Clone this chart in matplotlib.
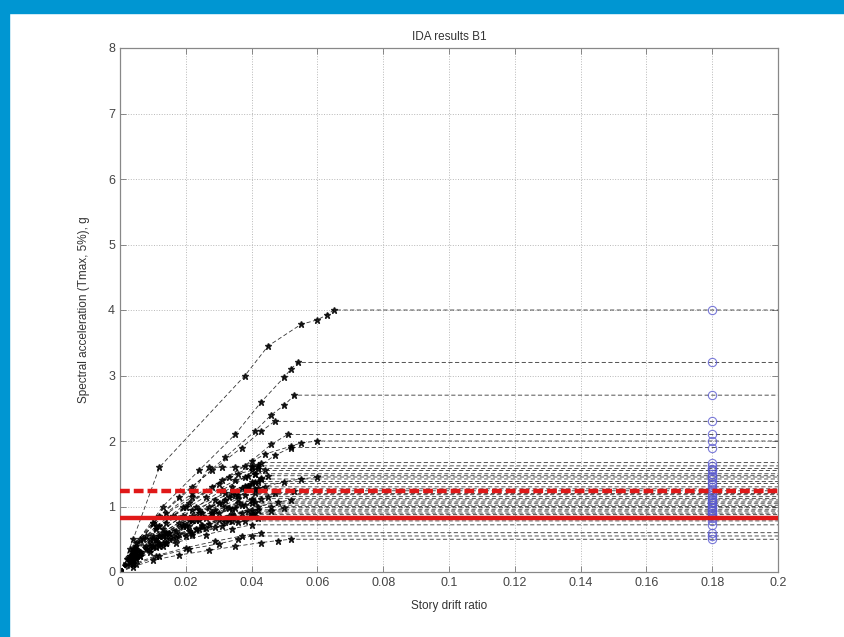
import matplotlib
matplotlib.use("Agg")
import matplotlib.pyplot as plt
from matplotlib.patches import Rectangle

plt.rcParams["font.family"] = ["Liberation Sans", "DejaVu Sans"]

# IDA curves: story drift ratio vs Sa(Tmax, 5%) [g], one pair of lists per record
drifts = [
    [0, 0.004, 0.012, 0.038, 0.045, 0.055, 0.060, 0.063, 0.065],
    [0, 0.005, 0.013, 0.024, 0.035, 0.043, 0.050, 0.052, 0.054],
    [0, 0.005, 0.012, 0.022, 0.032, 0.041, 0.046, 0.050, 0.053],
    [0, 0.004, 0.010, 0.018, 0.028, 0.037, 0.043, 0.047],
    [0, 0.005, 0.012, 0.021, 0.031, 0.040, 0.046, 0.051],
    [0, 0.004, 0.011, 0.020, 0.030, 0.038, 0.044, 0.052, 0.055, 0.060],
    [0, 0.005, 0.013, 0.024, 0.034, 0.042, 0.047, 0.052],
    [0, 0.003, 0.010, 0.022, 0.033, 0.040, 0.042, 0.043],
    [0, 0.006, 0.014, 0.022, 0.027, 0.031, 0.035, 0.040],
    [0, 0.004, 0.011, 0.019, 0.028, 0.036, 0.040, 0.042],
    [0, 0.005, 0.013, 0.022, 0.031, 0.038, 0.041, 0.044],
    [0, 0.003, 0.008, 0.016, 0.026, 0.035, 0.039, 0.041],
    [0, 0.006, 0.015, 0.025, 0.034, 0.040, 0.043, 0.045],
    [0, 0.004, 0.012, 0.022, 0.032, 0.042, 0.050, 0.055, 0.060],
    [0, 0.005, 0.014, 0.024, 0.033, 0.039, 0.041, 0.043],
    [0, 0.002, 0.007, 0.014, 0.023, 0.032, 0.038, 0.042],
    [0, 0.004, 0.010, 0.019, 0.029, 0.037, 0.039, 0.040],
    [0, 0.005, 0.012, 0.021, 0.030, 0.036, 0.041, 0.044],
    [0, 0.003, 0.009, 0.018, 0.027, 0.035, 0.039],
    [0, 0.006, 0.014, 0.023, 0.032, 0.040, 0.047, 0.053],
    [0, 0.004, 0.011, 0.020, 0.029, 0.036, 0.041],
    [0, 0.005, 0.013, 0.022, 0.031, 0.038],
    [0, 0.003, 0.008, 0.015, 0.024, 0.033, 0.040, 0.045],
    [0, 0.004, 0.010, 0.019, 0.028, 0.036, 0.043],
    [0, 0.006, 0.015, 0.025, 0.034, 0.042, 0.048, 0.052],
    [0, 0.004, 0.012, 0.021, 0.030, 0.037, 0.041],
    [0, 0.005, 0.011, 0.019, 0.028, 0.035, 0.040],
    [0, 0.003, 0.009, 0.017, 0.026, 0.034, 0.038],
    [0, 0.006, 0.014, 0.023, 0.032, 0.040, 0.046],
    [0, 0.004, 0.012, 0.022, 0.032, 0.040, 0.046, 0.050],
    [0, 0.005, 0.013, 0.021, 0.030, 0.037, 0.042],
    [0, 0.003, 0.008, 0.016, 0.025, 0.033, 0.039],
    [0, 0.004, 0.010, 0.018, 0.027, 0.035, 0.041],
    [0, 0.006, 0.014, 0.024, 0.033, 0.040],
    [0, 0.003, 0.009, 0.017, 0.026, 0.034, 0.040],
    [0, 0.004, 0.011, 0.020, 0.029, 0.036, 0.042],
    [0, 0.005, 0.013, 0.022, 0.031, 0.038],
    [0, 0.003, 0.009, 0.017, 0.026, 0.034, 0.040],
    [0, 0.004, 0.011, 0.020, 0.029, 0.037, 0.043],
    [0, 0.005, 0.012, 0.021, 0.030, 0.036, 0.040],
    [0, 0.004, 0.010, 0.018, 0.027, 0.035, 0.043, 0.048, 0.052],
]
sa = [
    [0, 0.50, 1.60, 3.00, 3.45, 3.78, 3.85, 3.93, 4.00],
    [0, 0.45, 1.00, 1.55, 2.10, 2.60, 2.98, 3.10, 3.20],
    [0, 0.40, 0.85, 1.30, 1.75, 2.15, 2.40, 2.55, 2.70],
    [0, 0.35, 0.75, 1.15, 1.55, 1.90, 2.15, 2.30],
    [0, 0.35, 0.70, 1.05, 1.40, 1.70, 1.95, 2.10],
    [0, 0.30, 0.65, 1.00, 1.35, 1.62, 1.80, 1.92, 1.97, 2.00],
    [0, 0.30, 0.60, 0.95, 1.30, 1.60, 1.78, 1.90],
    [0, 0.35, 0.75, 1.15, 1.45, 1.60, 1.64, 1.67],
    [0, 0.50, 0.90, 1.20, 1.60, 1.60, 1.60, 1.62],
    [0, 0.35, 0.70, 1.00, 1.30, 1.50, 1.55, 1.58],
    [0, 0.30, 0.65, 0.95, 1.25, 1.45, 1.50, 1.55],
    [0, 0.25, 0.55, 0.85, 1.15, 1.40, 1.46, 1.50],
    [0, 0.30, 0.60, 0.90, 1.20, 1.38, 1.43, 1.47],
    [0, 0.25, 0.55, 0.85, 1.10, 1.28, 1.38, 1.42, 1.45],
    [0, 0.30, 0.60, 0.90, 1.15, 1.32, 1.38, 1.42],
    [0, 0.20, 0.50, 0.75, 1.00, 1.20, 1.32, 1.38],
    [0, 0.30, 0.55, 0.85, 1.10, 1.28, 1.32, 1.35],
    [0, 0.25, 0.55, 0.80, 1.05, 1.18, 1.26, 1.30],
    [0, 0.25, 0.50, 0.75, 1.00, 1.18, 1.27],
    [0, 0.30, 0.55, 0.80, 1.00, 1.12, 1.20, 1.24],
    [0, 0.20, 0.45, 0.70, 0.95, 1.12, 1.20],
    [0, 0.25, 0.55, 0.80, 1.05, 1.18],
    [0, 0.20, 0.40, 0.60, 0.80, 0.98, 1.10, 1.15],
    [0, 0.25, 0.50, 0.72, 0.92, 1.05, 1.12],
    [0, 0.30, 0.50, 0.70, 0.88, 1.00, 1.07, 1.10],
    [0, 0.20, 0.45, 0.70, 0.90, 1.02, 1.07],
    [0, 0.25, 0.50, 0.70, 0.88, 0.98, 1.05],
    [0, 0.15, 0.40, 0.62, 0.82, 0.96, 1.02],
    [0, 0.25, 0.45, 0.65, 0.82, 0.94, 1.00],
    [0, 0.20, 0.40, 0.60, 0.76, 0.86, 0.93, 0.98],
    [0, 0.22, 0.45, 0.62, 0.80, 0.90, 0.95],
    [0, 0.15, 0.35, 0.55, 0.72, 0.86, 0.93],
    [0, 0.20, 0.40, 0.58, 0.73, 0.84, 0.90],
    [0, 0.25, 0.45, 0.65, 0.80, 0.88],
    [0, 0.15, 0.35, 0.52, 0.67, 0.78, 0.85],
    [0, 0.18, 0.38, 0.55, 0.68, 0.77, 0.82],
    [0, 0.20, 0.40, 0.56, 0.70, 0.78],
    [0, 0.12, 0.30, 0.45, 0.57, 0.66, 0.72],
    [0, 0.12, 0.25, 0.37, 0.47, 0.55, 0.60],
    [0, 0.12, 0.25, 0.35, 0.43, 0.50, 0.55],
    [0, 0.08, 0.18, 0.26, 0.33, 0.39, 0.45, 0.48, 0.50],
]

collapse_drift = 0.18          # where the collapse capacities are marked
sa_median = 1.24               # dashed red line
sa_mce = 0.82                  # solid red line

x_ticks = [0, 0.02, 0.04, 0.06, 0.08, 0.1, 0.12, 0.14, 0.16, 0.18, 0.2]
x_tick_labels = ["0", "0.02", "0.04", "0.06", "0.08", "0.1", "0.12", "0.14", "0.16", "0.18", "0.2"]
y_ticks = [0, 1, 2, 3, 4, 5, 6, 7, 8]

fig = plt.figure(figsize=(8.45, 6.37), dpi=100)
fig.patches.append(Rectangle((0, 1 - 13 / 637), 1, 13 / 637, transform=fig.transFigure,
                             color="#0096d2", zorder=0))
fig.patches.append(Rectangle((0, 0), 9 / 845, 1, transform=fig.transFigure,
                             color="#0096d2", zorder=0))

ax = fig.add_axes([120 / 845, 65 / 637, 658 / 845, 524 / 637])

for d, s in zip(drifts, sa):
    xs = d + [0.2]
    ys = s + [s[-1]]
    ax.plot(xs, ys, "k--", lw=0.6, dashes=(5, 3), marker="*", ms=5,
            markevery=list(range(len(d))), mfc="k", mec="k", alpha=0.8)

collapse_sa = [s[-1] for s in sa]
ax.plot([collapse_drift] * len(collapse_sa), collapse_sa, "o", ms=6,
        mfc="none", mec="#5a5ad0", mew=0.8, alpha=0.8)

ax.axhline(sa_mce, color="#e01818", lw=3.2, zorder=5)
ax.axhline(sa_median, color="#e01818", lw=3.2, ls=(0, (2.2, 0.9)), zorder=5)

ax.set_xlim(0, 0.2)
ax.set_ylim(0, 8)
ax.set_xticks(x_ticks)
ax.set_xticklabels(x_tick_labels)
ax.set_yticks(y_ticks)
ax.grid(True, ls=":", color="#b8b8b8", lw=0.7)
ax.tick_params(direction="in", top=True, right=True, labelsize=9,
               labelcolor="#444444", length=4, width=0.6, color="#777777")
for sp in ax.spines.values():
    sp.set_color("#888888")
    sp.set_linewidth(0.9)

ax.set_title("IDA results B1", fontsize=8.5, color="#333333", pad=6)
ax.set_xlabel("Story drift ratio", fontsize=8.5, color="#333333")
ax.set_ylabel("Spectral acceleration (Tmax, 5%), g", fontsize=8.5, color="#333333")
ax.xaxis.set_label_coords(0.5, -0.053)
ax.yaxis.set_label_coords(-0.046, 0.5)

fig.savefig("out.png", dpi=100, facecolor="white")
